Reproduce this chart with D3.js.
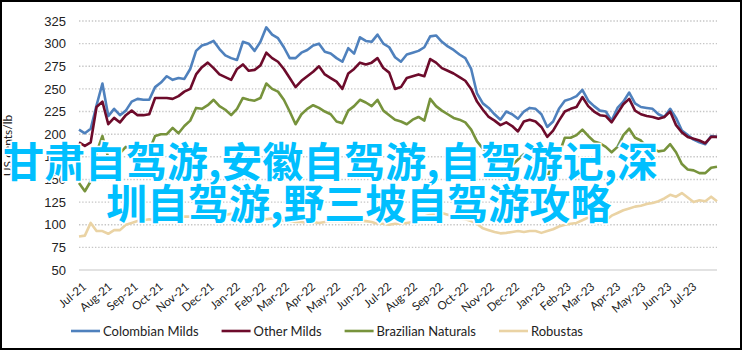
<!DOCTYPE html>
<html>
<head>
<meta charset="utf-8">
<script src="https://cdn.jsdelivr.net/npm/d3@7/dist/d3.min.js"></script>
<style>
  body { margin: 0; background: #fff; }
</style>
</head>
<body>
<div id="chart"></div>
<script>
// weekly prices, US cents/lb, first week starting 1 Jul 2021
const startWeek = "2021-07-01"
const lastLabel = "2023-07-01"
const colombianMilds = [205,201,206,232,256,220,228,221,226,236,239,238,238,252,257,264,260,262,261,272,
  292,298,300,303,294,287,284,282,302,300,292,302,318,310,306,296,284,284,290,293,
  298,300,291,289,284,280,295,289,307,303,302,310,300,296,285,280,288,290,292,296,
  308,309,302,297,293,288,284,272,245,234,229,222,216,225,222,217,225,229,228,222,
  208,214,228,237,239,242,249,237,231,226,225,215,229,236,246,234,230,229,228,222,
  219,228,218,204,199,194,191,189,198,197]
const otherMilds = [191,187,191,230,236,211,218,213,221,226,221,221,222,240,240,240,239,242,247,250,
  266,274,279,273,266,263,260,272,277,270,271,276,290,284,280,272,262,252,259,264,
  269,275,266,262,258,250,267,272,279,277,279,284,273,268,250,252,262,264,266,264,
  283,279,273,270,267,263,259,250,236,227,219,215,210,213,209,203,214,216,214,208,
  197,204,215,225,228,230,241,231,225,221,220,213,223,233,239,226,222,220,219,217,
  219,225,210,202,197,195,193,190,197,197]
const brazilianNaturals = [146,137,148,180,198,174,172,179,186,183,186,178,182,198,200,200,207,201,209,215,
  229,228,232,238,231,227,221,228,240,238,237,240,256,250,247,238,225,211,222,228,
  232,229,225,222,214,212,226,231,238,235,231,238,226,221,216,214,211,216,219,215,
  239,231,226,222,218,216,213,205,192,184,179,176,170,168,166,172,178,176,173,165,
  152,170,178,196,196,199,205,198,192,190,186,180,186,199,206,196,193,186,184,181,
  182,189,180,167,161,160,157,157,163,164]
const robustas = [87,88,102,93,93,90,94,94,100,102,104,105,106,105,106,105,107,108,109,109,
  110,111,110,113,112,111,112,110,109,108,107,108,106,107,107,104,104,103,103,102,
  103,102,103,104,104,104,103,103,104,104,103,101,101,100,101,101,102,103,106,109,
  111,112,113,111,109,107,106,104,101,96,94,92,90.5,91,92,93,92,93,93,91,
  93,95,98,100,101,102,105,108,107,104,105,110,113,116,118,120,121,123,124,126,
  129,133,131,135,130,125,127,126,131,126]

const seriesNames = ["Colombian Milds", "Other Milds", "Brazilian Naturals", "Robustas"]
const seriesColors = ["#4f81bd", "#6d0b2b", "#77933c", "#ead3a4"]
const yTicks = [50, 75, 100, 125, 150, 175, 200, 225, 250, 275, 300, 325]
const yTitle = "US cents/lb"
const overlayLines = ["甘肃自驾游,安徽自驾游,自驾游记,深", "圳自驾游,野三坡自驾游攻略"]

const W = 743, H = 352
const margin = {top: 21, right: 26, bottom: 82, left: 79}
const width = W - margin.left - margin.right,
  height = H - margin.top - margin.bottom

const parse = d3.timeParse("%Y-%m-%d")
const t0 = parse(startWeek)
const dates = colombianMilds.map((d, i) => d3.timeDay.offset(t0, i * 7))
const allSeries = [colombianMilds, otherMilds, brazilianNaturals, robustas]

const x = d3.scaleTime().domain([t0, dates[dates.length - 1]]).range([0, width])
const y = d3.scaleLinear().domain([50, 325]).range([height, 0])

const svg = d3.select("#chart")
  .append("svg")
    .attr("width", W)
    .attr("height", H)
    .style("font-family", "Lato, 'Open Sans', sans-serif")

svg.append("rect")
  .attr("x", 1).attr("y", 1)
  .attr("width", 740).attr("height", 348)
  .attr("fill", "#fff")
  .attr("stroke", "#000")
  .attr("stroke-width", 2)

const g = svg.append("g")
  .attr("transform", "translate(" + margin.left + "," + margin.top + ")")

// gridlines
g.selectAll(null)
  .data(yTicks.filter(d => d > 50))
  .enter()
  .append("line")
  .attr("x1", 0).attr("x2", width)
  .attr("y1", d => y(d)).attr("y2", d => y(d))
  .style("stroke", "#c6c6c6")
  .style("stroke-width", 1.4)
  .style("stroke-dasharray", "1.4,1.8")
g.append("line")
  .attr("x1", 0).attr("x2", width)
  .attr("y1", y(50)).attr("y2", y(50))
  .style("stroke", "#d9d9d9")
  .style("stroke-width", 1.5)

// y axis
g.append("g")
  .call(d3.axisLeft(y).tickValues(yTicks).tickSize(0).tickPadding(13))
  .call(a => a.select(".domain").remove())
  .selectAll("text")
    .style("font-size", "13px")
    .style("fill", "#222")
g.append("text")
  .attr("transform", "rotate(-90)")
  .attr("x", -height / 2)
  .attr("y", -margin.left + 12)
  .attr("text-anchor", "middle")
  .style("font-size", "12px")
  .style("fill", "#222")
  .text(yTitle)

// x axis, monthly labels Jul-21 .. Jul-23
const months = d3.timeMonth.range(t0, d3.timeDay.offset(parse(lastLabel), 1))
g.selectAll(null)
  .data(months)
  .enter()
  .append("text")
  .attr("transform", d => "translate(" + (x(d) + 8) + "," + (height + 18) + ") rotate(-40)")
  .attr("text-anchor", "end")
  .style("font-size", "11.5px")
  .style("fill", "#222")
  .text(d3.timeFormat("%b-%y"))

// series
const line = d3.line()
  .x((d, i) => x(dates[i]))
  .y(d => y(d))
allSeries.forEach((s, k) => {
  g.append("path")
    .datum(s)
    .attr("d", line)
    .attr("fill", "none")
    .attr("stroke", seriesColors[k])
    .attr("stroke-width", 2.6)
    .attr("stroke-linejoin", "round")
})

// legend
let lx = 71
seriesNames.forEach((name, k) => {
  svg.append("line")
    .attr("x1", lx).attr("x2", lx + 29)
    .attr("y1", 331).attr("y2", 331)
    .style("stroke", seriesColors[k])
    .style("stroke-width", 2.6)
  const t = svg.append("text")
    .attr("x", lx + 32)
    .attr("y", 331)
    .attr("dy", "0.35em")
    .style("font-size", "13px")
    .style("fill", "#222")
    .text(name)
  lx += 32 + t.node().getComputedTextLength() + 23
})

// overlay title
const overlayX = [3, 106], overlayY = [177, 219]
overlayLines.forEach((txt, i) => {
  svg.append("text")
    .attr("x", overlayX[i])
    .attr("y", overlayY[i])
    .style("font-family", "'Noto Sans CJK SC', sans-serif")
    .style("font-size", "41px")
    .style("font-weight", "bold")
    .style("fill", "#00bfff")
    .style("stroke", "#fff")
    .style("stroke-width", 3)
    .style("paint-order", "stroke")
    .text(txt)
})
</script>
</body>
</html>
